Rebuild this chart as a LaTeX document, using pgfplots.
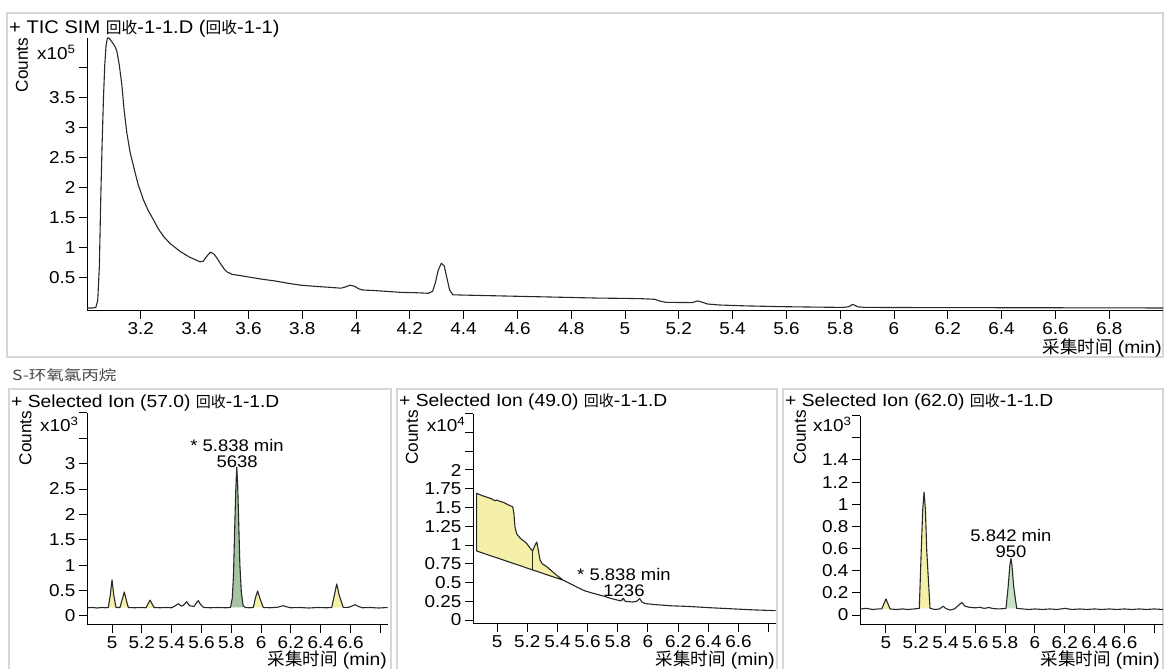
\documentclass[border=0pt]{standalone}
\usepackage{pgfplots}
\pgfplotsset{compat=1.18}
\usepackage{fontspec}
\setmainfont{Liberation Sans}[FakeStretch=1.1]
\newfontfamily\plainfont{Liberation Sans}
\newfontfamily\cjk{Noto Sans CJK SC}[Scale=0.86]
\newfontfamily\cjkbig{Noto Sans CJK SC}
\newfontfamily\cjkS{Noto Sans CJK SC}[FakeStretch=1.25]
\newcommand\tfont{\fontsize{17.5bp}{20bp}\selectfont}
\newcommand\ttfont{\fontsize{18.3bp}{21bp}\selectfont}
\newcommand\kfont{\fontsize{17.2bp}{19bp}\selectfont}
\newcommand\afont{\fontsize{16.8bp}{19bp}\selectfont}
\newcommand\lfont{\fontsize{17.5bp}{20bp}\selectfont}
\definecolor{yel}{RGB}{244,240,168}
\definecolor{grnA}{RGB}{166,196,164}
\definecolor{grnB}{RGB}{198,228,196}
\definecolor{brd}{RGB}{215,215,215}
\definecolor{crv}{RGB}{40,40,40}
\pgfplotsset{
  chrom/.style={
    scale only axis, anchor=south west,
    axis lines=left, axis line style={-, black, line width=1bp},
    tick align=outside, major tick length=8bp,
    tick style={black, line width=1bp},
    tick label style={font=\kfont, black},
    /pgf/number format/assume math mode=true,
    scaled ticks=false,
    clip=false,
  },
  curve/.style={crv, line width=1.1bp, no markers, line join=round},
  yfill/.style={fill=yel, draw=none, no markers},
}
\begin{document}
\begin{tikzpicture}[x=1bp,y=1bp]
\path[use as bounding box, fill=white] (0,0) rectangle (1165,669);
\draw[brd, line width=1.5bp] (7,312) rectangle (1163,656);
\draw[brd, line width=1.5bp] (9,-5) rectangle (391,280);
\draw[brd, line width=1.5bp] (397,-5) rectangle (777,280);
\draw[brd, line width=1.5bp] (783,-5) rectangle (1163,280);

% ---------------- TIC ----------------
\begin{axis}[chrom, at={(87bp,358bp)}, width=1076bp, height=273bp,
  xmin=3.0, xmax=7.0, ymin=-0.05, ymax=4.5,
  xtick={3.2,3.4,3.6,3.8,4,4.2,4.4,4.6,4.8,5,5.2,5.4,5.6,5.8,6,6.2,6.4,6.6,6.8},
  xticklabels={3.2,3.4,3.6,3.8,4,4.2,4.4,4.6,4.8,5,5.2,5.4,5.6,5.8,6,6.2,6.4,6.6,6.8},
  ytick={0.5,1,1.5,2,2.5,3,3.5,4},
  yticklabels={0.5,1,1.5,2,2.5,3,3.5,{}}]
\addplot[curve] coordinates {(3.000,0.0)(3.020,0.0)(3.033,0.01)(3.040,0.13)(3.046,0.7)(3.051,1.8)(3.056,2.7)(3.061,3.47)(3.066,4.05)(3.071,4.38)(3.076,4.50)(3.082,4.50)(3.090,4.45)(3.098,4.40)(3.105,4.35)(3.111,4.28)(3.120,4.05)(3.129,3.74)(3.138,3.30)(3.148,2.92)(3.160,2.60)(3.173,2.36)(3.190,2.06)(3.210,1.80)(3.228,1.62)(3.247,1.47)(3.265,1.32)(3.285,1.19)(3.31,1.07)(3.347,0.94)(3.38,0.85)(3.42,0.77)(3.432,0.78)(3.445,0.86)(3.459,0.93)(3.472,0.90)(3.485,0.82)(3.496,0.74)(3.51,0.65)(3.521,0.60)(3.54,0.56)(3.57,0.54)(3.596,0.52)(3.65,0.48)(3.70,0.45)(3.75,0.41)(3.795,0.38)(3.85,0.36)(3.90,0.345)(3.944,0.33)(3.96,0.35)(3.979,0.38)(3.995,0.36)(4.01,0.32)(4.025,0.30)(4.07,0.29)(4.12,0.275)(4.168,0.26)(4.22,0.255)(4.27,0.245)(4.285,0.28)(4.295,0.42)(4.305,0.62)(4.317,0.745)(4.328,0.70)(4.338,0.50)(4.348,0.30)(4.36,0.22)(4.40,0.215)(4.50,0.205)(4.60,0.195)(4.70,0.185)(4.80,0.175)(4.90,0.165)(5.00,0.16)(5.06,0.155)(5.11,0.145)(5.13,0.115)(5.15,0.095)(5.20,0.092)(5.25,0.09)(5.269,0.117)(5.285,0.10)(5.306,0.067)(5.35,0.05)(5.45,0.035)(5.586,0.022)(5.70,0.015)(5.81,0.01)(5.83,0.02)(5.847,0.06)(5.865,0.02)(5.89,0.01)(6.00,0.008)(6.20,0.006)(6.50,0.004)(6.80,0.002)(7.00,0.0)};
\end{axis}

% ---------------- Ion 57 ----------------
\begin{axis}[chrom, at={(87bp,44bp)}, width=301bp, height=212bp,
  xmin=4.832, xmax=6.852, ymin=-0.18, ymax=4,
  xtick={5,5.2,5.4,5.6,5.8,6,6.2,6.4,6.6,6.8},
  xticklabels={5,5.2,5.4,5.6,5.8,6,6.2,6.4,6.6,{}},
  ytick={0,0.5,1,1.5,2,2.5,3,3.5,4},
  yticklabels={0,0.5,1,1.5,2,2.5,3,{},{}}]
\addplot[yfill] coordinates {(4.975,0.165)(4.988,0.40)(5.000,0.71)(5.012,0.40)(5.027,0.165)};
\addplot[yfill] coordinates {(5.053,0.165)(5.068,0.32)(5.082,0.47)(5.095,0.32)(5.109,0.165)};
\addplot[yfill] coordinates {(5.228,0.16)(5.242,0.24)(5.255,0.31)(5.268,0.24)(5.282,0.165)};
\addplot[yfill] coordinates {(5.948,0.165)(5.962,0.35)(5.977,0.49)(5.992,0.35)(6.015,0.165)};
\addplot[yfill] coordinates {(6.474,0.165)(6.49,0.38)(6.508,0.63)(6.525,0.40)(6.552,0.165)};
\addplot[fill=grnA, draw=none, no markers] coordinates {(5.795,0.165)(5.807,0.35)(5.815,0.8)(5.823,1.7)(5.830,2.45)(5.837,2.93)(5.843,2.6)(5.850,1.85)(5.858,1.0)(5.868,0.45)(5.88,0.2)(5.895,0.165)};
\addplot[curve] coordinates {(4.835,0.16)(4.87,0.165)(4.90,0.155)(4.93,0.165)(4.955,0.16)(4.975,0.165)(4.988,0.40)(5.000,0.71)(5.012,0.40)(5.027,0.165)(5.053,0.165)(5.068,0.32)(5.082,0.47)(5.095,0.32)(5.109,0.165)(5.15,0.16)(5.20,0.165)(5.228,0.16)(5.242,0.24)(5.255,0.31)(5.268,0.24)(5.282,0.165)(5.32,0.16)(5.36,0.165)(5.40,0.16)(5.425,0.2)(5.445,0.24)(5.465,0.19)(5.48,0.21)(5.501,0.28)(5.52,0.2)(5.55,0.185)(5.565,0.25)(5.579,0.30)(5.595,0.22)(5.615,0.165)(5.66,0.16)(5.71,0.165)(5.76,0.16)(5.795,0.165)(5.807,0.35)(5.815,0.8)(5.823,1.7)(5.830,2.45)(5.837,2.93)(5.843,2.6)(5.850,1.85)(5.858,1.0)(5.868,0.45)(5.88,0.2)(5.895,0.165)(5.92,0.16)(5.948,0.165)(5.962,0.35)(5.977,0.49)(5.992,0.35)(6.015,0.165)(6.06,0.16)(6.11,0.17)(6.135,0.19)(6.15,0.2)(6.17,0.18)(6.20,0.16)(6.26,0.165)(6.32,0.155)(6.38,0.165)(6.44,0.16)(6.474,0.165)(6.49,0.38)(6.508,0.63)(6.525,0.40)(6.552,0.165)(6.59,0.17)(6.615,0.2)(6.631,0.22)(6.65,0.19)(6.68,0.16)(6.73,0.165)(6.79,0.155)(6.85,0.165)};
\node[font=\afont, inner sep=0] at (axis cs:5.839,3.36) {* 5.838 min};
\node[font=\afont, inner sep=0] at (axis cs:5.839,3.04) {5638};
\end{axis}

% ---------------- Ion 49 ----------------
\begin{axis}[chrom, at={(473bp,45bp)}, width=303bp, height=210.25bp,
  xmin=4.841, xmax=6.848, ymin=-0.053, ymax=2.75,
  xtick={5,5.2,5.4,5.6,5.8,6,6.2,6.4,6.6,6.8},
  xticklabels={5,5.2,5.4,5.6,5.8,6,6.2,6.4,6.6,{}},
  ytick={0,0.25,0.5,0.75,1,1.25,1.5,1.75,2,2.25,2.5,2.75},
  yticklabels={0,0.25,0.5,0.75,1,1.25,1.5,1.75,2,{},{},{}}]
\addplot[fill=yel, draw=crv, line width=1.1bp, no markers, line join=round] coordinates {(4.865,0.92)(4.865,1.69)(4.90,1.66)(4.93,1.64)(4.96,1.62)(4.987,1.59)(5.00,1.60)(5.02,1.58)(5.04,1.57)(5.06,1.55)(5.08,1.53)(5.104,1.51)(5.112,1.42)(5.119,1.24)(5.13,1.15)(5.141,1.12)(5.16,1.08)(5.18,1.05)(5.197,1.02)(5.215,0.97)(5.236,0.92)(5.248,0.98)(5.263,1.04)(5.272,0.95)(5.285,0.80)(5.30,0.75)(5.33,0.71)(5.37,0.64)(5.40,0.59)(5.439,0.53)(4.865,0.92)};
\addplot[curve] coordinates {(5.236,0.92)(5.236,0.668)};
\addplot[fill=grnA, draw=none, no markers] coordinates {(5.82,0.255)(5.836,0.29)(5.85,0.25)};
\addplot[curve] coordinates {(5.439,0.53)(5.48,0.49)(5.528,0.44)(5.58,0.39)(5.63,0.36)(5.704,0.32)(5.75,0.29)(5.80,0.265)(5.82,0.255)(5.836,0.29)(5.85,0.25)(5.90,0.24)(5.925,0.25)(5.945,0.285)(5.96,0.24)(5.98,0.22)(6.05,0.205)(6.15,0.19)(6.28,0.18)(6.40,0.165)(6.55,0.15)(6.70,0.135)(6.846,0.125)};
\node[font=\afont, inner sep=0] at (axis cs:5.841,0.61) {* 5.838 min};
\node[font=\afont, inner sep=0] at (axis cs:5.841,0.39) {1236};
\end{axis}

% ---------------- Ion 62 ----------------
\begin{axis}[chrom, at={(860bp,44bp)}, width=303bp, height=209.3bp,
  xmin=4.826, xmax=6.86, ymin=-0.09, ymax=1.8,
  xtick={5,5.2,5.4,5.6,5.8,6,6.2,6.4,6.6,6.8},
  xticklabels={5,5.2,5.4,5.6,5.8,6,6.2,6.4,6.6,{}},
  ytick={0,0.2,0.4,0.6,0.8,1,1.2,1.4,1.6,1.8},
  yticklabels={0,0.2,0.4,0.6,0.8,1,1.2,1.4,{},{}}]
\addplot[yfill] coordinates {(4.972,0.055)(4.986,0.10)(5.0,0.145)(5.014,0.10)(5.028,0.055)};
\addplot[yfill] coordinates {(5.224,0.06)(5.237,0.58)(5.247,0.95)(5.256,1.11)(5.265,0.95)(5.274,0.58)(5.296,0.06)};
\addplot[fill=grnB, draw=none, no markers] coordinates {(5.806,0.06)(5.82,0.25)(5.832,0.45)(5.839,0.51)(5.846,0.45)(5.858,0.25)(5.878,0.06)};
\addplot[curve] coordinates {(4.83,0.055)(4.87,0.06)(4.91,0.05)(4.95,0.055)(4.972,0.055)(4.986,0.10)(5.0,0.145)(5.014,0.10)(5.028,0.055)(5.07,0.05)(5.11,0.055)(5.15,0.05)(5.19,0.055)(5.224,0.06)(5.237,0.58)(5.247,0.95)(5.256,1.11)(5.265,0.95)(5.274,0.58)(5.296,0.06)(5.33,0.05)(5.36,0.055)(5.385,0.08)(5.40,0.06)(5.43,0.045)(5.46,0.055)(5.49,0.09)(5.509,0.115)(5.53,0.08)(5.56,0.07)(5.60,0.065)(5.63,0.07)(5.66,0.06)(5.69,0.068)(5.72,0.058)(5.76,0.055)(5.806,0.06)(5.82,0.25)(5.832,0.45)(5.839,0.51)(5.846,0.45)(5.858,0.25)(5.878,0.06)(5.92,0.055)(5.96,0.05)(6.0,0.055)(6.05,0.05)(6.1,0.055)(6.15,0.05)(6.2,0.06)(6.25,0.05)(6.3,0.055)(6.35,0.05)(6.4,0.055)(6.45,0.05)(6.5,0.055)(6.55,0.05)(6.6,0.055)(6.65,0.05)(6.7,0.055)(6.75,0.05)(6.8,0.055)(6.86,0.05)};
\node[font=\afont, inner sep=0] at (axis cs:5.839,0.72) {5.842 min};
\node[font=\afont, inner sep=0] at (axis cs:5.839,0.57) {950};
\end{axis}

% ---------------- texts ----------------
\node[anchor=base west, inner sep=0, font=\ttfont] at (9,635.7) {+ TIC SIM {\cjk 回收}-1-1.D ({\cjk 回收}-1-1)};
\node[anchor=base west, inner sep=0, font=\tfont] at (11,261.3) {+ Selected Ion (57.0) {\cjk 回收}-1-1.D};
\node[anchor=base west, inner sep=0, font=\tfont] at (399,262.3) {+ Selected Ion (49.0) {\cjk 回收}-1-1.D};
\node[anchor=base west, inner sep=0, font=\tfont] at (785,262.3) {+ Selected Ion (62.0) {\cjk 回收}-1-1.D};
\node[anchor=base west, inner sep=0, font=\fontsize{14bp}{16bp}\selectfont\cjkS, text={rgb,255:red,70;green,70;blue,70}] at (12,288) {S-环氧氯丙烷};

\node[rotate=90, inner sep=0, font=\kfont\plainfont] at (22,604) {Counts};
\node[rotate=90, inner sep=0, font=\kfont\plainfont] at (25.5,231) {Counts};
\node[rotate=90, inner sep=0, font=\kfont\plainfont] at (412,231.5) {Counts};
\node[rotate=90, inner sep=0, font=\kfont\plainfont] at (800,231.5) {Counts};

\node[anchor=base west, inner sep=0, font=\kfont] at (37,609) {x10\textsuperscript{5}};
\node[anchor=base west, inner sep=0, font=\kfont] at (40,237.3) {x10\textsuperscript{3}};
\node[anchor=base west, inner sep=0, font=\kfont] at (426.7,237.3) {x10\textsuperscript{4}};
\node[anchor=base west, inner sep=0, font=\kfont] at (813,237.3) {x10\textsuperscript{3}};

\node[anchor=base east, inner sep=0, font=\lfont] at (1162,315) {{\cjkbig 采集时间} (min)};
\node[anchor=base east, inner sep=0, font=\lfont] at (387,3.2) {{\cjkbig 采集时间} (min)};
\node[anchor=base east, inner sep=0, font=\lfont] at (775,3.2) {{\cjkbig 采集时间} (min)};
\node[anchor=base east, inner sep=0, font=\lfont] at (1160,3.2) {{\cjkbig 采集时间} (min)};
\end{tikzpicture}
\end{document}
